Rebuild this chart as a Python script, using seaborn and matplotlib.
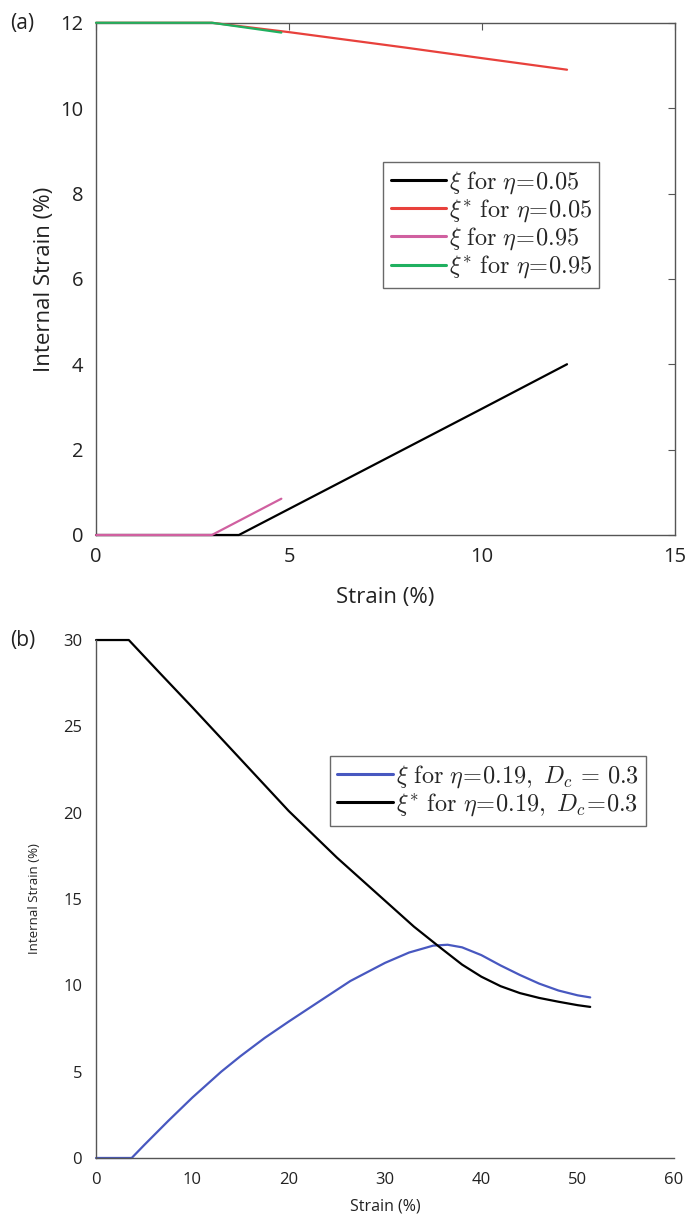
import matplotlib
matplotlib.use("Agg")
import matplotlib.pyplot as plt
import seaborn as sns
import pandas as pd
import numpy as np

sns.set_style("white")
plt.rcParams['font.family'] = ['Open Sans', 'DejaVu Sans']
plt.rcParams['mathtext.fontset'] = 'cm'

# ---- Panel (a) data ----
a_xi_005_x = [0.0, 3.0, 3.7, 6.0, 8.0, 10.0, 12.2]
a_xi_005_y = [0.0, 0.0, 0.0, 1.08, 2.02, 2.96, 4.0]
a_xis_005_x = [0.0, 3.0, 5.0, 8.0, 10.0, 12.2]
a_xis_005_y = [12.0, 12.0, 11.78, 11.42, 11.17, 10.9]
a_xi_095_x = [0.0, 3.0, 4.8]
a_xi_095_y = [0.0, 0.0, 0.85]
a_xis_095_x = [0.0, 3.0, 4.8]
a_xis_095_y = [12.0, 12.0, 11.77]
a_labels = [r'$\xi\ \mathrm{for}\ \eta\!=\!0.05$', r'$\xi^{*}\ \mathrm{for}\ \eta\!=\!0.05$',
            r'$\xi\ \mathrm{for}\ \eta\!=\!0.95$', r'$\xi^{*}\ \mathrm{for}\ \eta\!=\!0.95$']
a_colors = ['#000000', '#e8413c', '#d060a0', '#20b060']

# ---- Panel (b) data ----
b_xi_x = [0.0, 3.0, 3.7, 5.0, 7.5, 10.0, 13.0, 15.0, 17.5, 20.0, 23.4, 26.4, 30.0, 32.5,
          35.0, 36.5, 38.0, 40.0, 42.0, 44.0, 46.0, 48.0, 50.0, 51.3]
b_xi_y = [0.0, 0.0, 0.0, 0.75, 2.15, 3.5, 5.0, 5.9, 6.95, 7.9, 9.15, 10.25, 11.3, 11.9,
          12.3, 12.35, 12.2, 11.75, 11.15, 10.6, 10.1, 9.7, 9.42, 9.3]
b_xis_x = [0.0, 3.4, 6.6, 10.0, 15.0, 20.0, 25.0, 30.0, 33.0, 35.7, 38.0, 40.0, 42.0, 44.0,
           46.0, 48.0, 50.0, 51.3]
b_xis_y = [30.0, 30.0, 28.1, 26.1, 23.1, 20.1, 17.4, 14.9, 13.4, 12.2, 11.2, 10.5, 9.95, 9.55,
           9.27, 9.05, 8.85, 8.75]
b_labels = [r'$\xi\ \mathrm{for}\ \eta\!=\!0.19,\ D_c\,=\,0.3$', r'$\xi^{*}\ \mathrm{for}\ \eta\!=\!0.19,\ D_c\!=\!0.3$']
b_colors = ['#4858c0', '#000000']

fig = plt.figure(figsize=(6.91, 12.17), dpi=100)
axa = fig.add_axes([0.139, 0.5604, 0.838, 0.4209])
axb = fig.add_axes([0.139, 0.0485, 0.8364, 0.4256])

spine_c = '#555555'

# Panel (a)
dfs = []
for xs, ys, lab in [(a_xi_005_x, a_xi_005_y, a_labels[0]), (a_xis_005_x, a_xis_005_y, a_labels[1]),
                    (a_xi_095_x, a_xi_095_y, a_labels[2]), (a_xis_095_x, a_xis_095_y, a_labels[3])]:
    dfs.append(pd.DataFrame({'x': xs, 'y': ys, 'series': lab}))
dfa = pd.concat(dfs, ignore_index=True)
sns.lineplot(data=dfa, x='x', y='y', hue='series', hue_order=a_labels, palette=a_colors,
             ax=axa, linewidth=1.6, sort=False, estimator=None)
for ln in axa.get_lines():
    ln.set_clip_on(False)
    ln.set_zorder(3)
axa.set_xlim(0, 15)
axa.set_ylim(0, 12)
axa.set_xticks([0, 5, 10, 15])
axa.set_yticks([0, 2, 4, 6, 8, 10, 12])
axa.set_xlabel('Strain (%)', fontsize=16, color='#222222', labelpad=14)
axa.set_ylabel('Internal Strain (%)', fontsize=16, color='#222222', labelpad=4)
axa.tick_params(direction='in', top=True, right=True, labelsize=14.5, colors=spine_c,
                labelcolor='#222222', length=5, width=0.8, pad=9)
for s in axa.spines.values():
    s.set_color(spine_c)
    s.set_linewidth(1.0)
leg = axa.legend(loc='upper left', bbox_to_anchor=(0.496, 0.7285), fontsize=17.5, frameon=True,
                 fancybox=False, edgecolor='#444444', handlelength=2.3, handletextpad=0.1,
                 labelspacing=0.06, borderpad=0.3, borderaxespad=0)
leg.get_frame().set_linewidth(1.0)
for h in leg.get_lines():
    h.set_linewidth(2.2)

# Panel (b)
dfb = pd.concat([pd.DataFrame({'x': b_xi_x, 'y': b_xi_y, 'series': b_labels[0]}),
                 pd.DataFrame({'x': b_xis_x, 'y': b_xis_y, 'series': b_labels[1]})], ignore_index=True)
sns.lineplot(data=dfb, x='x', y='y', hue='series', hue_order=b_labels, palette=b_colors,
             ax=axb, linewidth=1.6, sort=False, estimator=None)
for ln in axb.get_lines():
    ln.set_clip_on(False)
axb.set_xlim(0, 60)
axb.set_ylim(0, 30)
axb.set_xticks([0, 10, 20, 30, 40, 50, 60])
axb.set_yticks([0, 5, 10, 15, 20, 25, 30])
axb.set_xlabel('Strain (%)', fontsize=11.5, color='#222222', labelpad=8)
axb.set_ylabel('Internal Strain (%)', fontsize=9.5, color='#222222', labelpad=16)
axb.tick_params(direction='in', labelsize=12, colors=spine_c, labelcolor='#222222',
                length=4, width=0.8, pad=10)
axb.spines['top'].set_visible(False)
axb.spines['right'].set_visible(False)
for s in ['left', 'bottom']:
    axb.spines[s].set_color(spine_c)
    axb.spines[s].set_linewidth(1.0)
legb = axb.legend(loc='upper left', bbox_to_anchor=(0.405, 0.776), fontsize=17.5, frameon=True,
                  fancybox=False, edgecolor='#444444', handlelength=2.3, handletextpad=0.1,
                  labelspacing=0.06, borderpad=0.3, borderaxespad=0)
legb.get_frame().set_linewidth(1.0)
for h in legb.get_lines():
    h.set_linewidth(2.2)

fig.text(0.014, 0.981, '(a)', fontsize=15, va='center', ha='left', color='#222222')
fig.text(0.014, 0.474, '(b)', fontsize=15, va='center', ha='left', color='#222222')

fig.savefig('out.png', dpi=100, facecolor='white')
